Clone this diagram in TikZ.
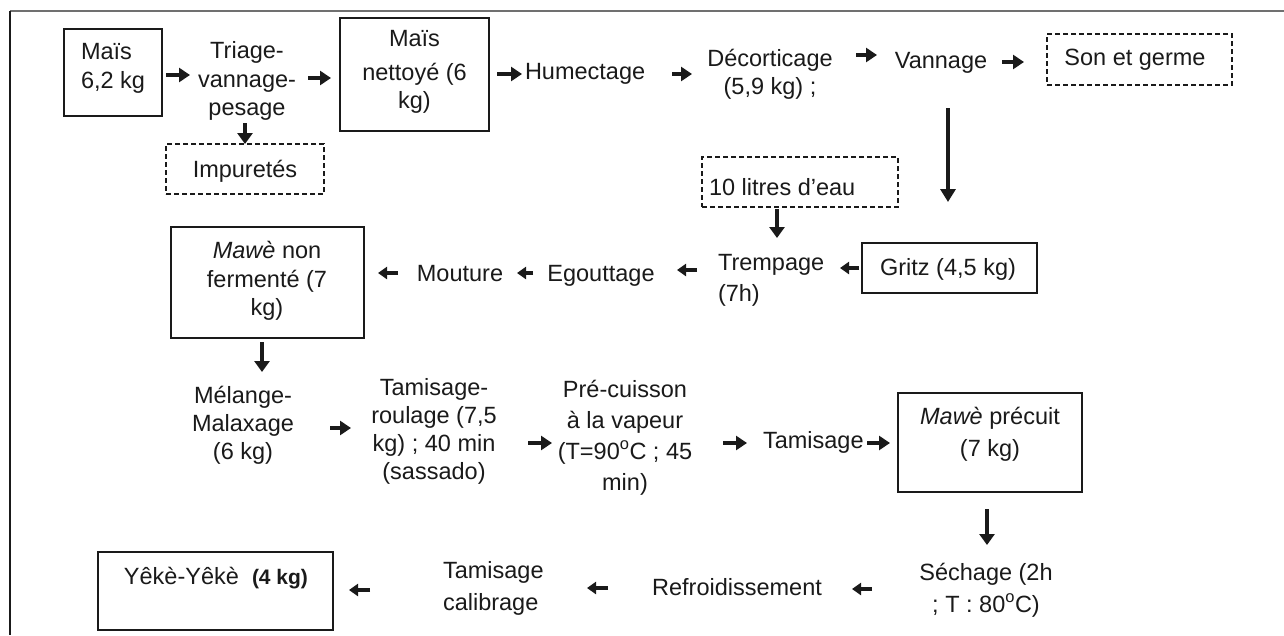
\documentclass[tikz,border=0pt]{standalone}
\usepackage{fontspec}
\setmainfont{Liberation Sans}
\usetikzlibrary{arrows.meta,fit}
\definecolor{ink}{HTML}{1A1A1A}
\definecolor{frame}{HTML}{707070}
\newcommand\mainfs{\fontsize{23.5}{28}\selectfont}
\begin{document}
\begin{tikzpicture}[x=1pt,y=-1pt,
  txt/.style={inner sep=0pt, outer sep=0pt, font=\mainfs, text=ink, align=center, anchor=base},
  txtl/.style={txt, align=left, anchor=base west},
  box/.style={draw=ink, line width=1.3pt, inner sep=0pt},
  dbox/.style={draw=ink, line width=1.2pt, dash pattern=on 5pt off 3pt, inner sep=0pt},
  rarr/.style={draw=ink, line width=4.8pt, -{Triangle[length=11pt,width=14pt]}},
  larr/.style={draw=ink, line width=3.8pt, -{Triangle[length=9pt,width=12pt]}},
  darr/.style={draw=ink, line width=4.8pt, -{Triangle[length=11pt,width=15pt]}},
  longarr/.style={draw=ink, line width=3.2pt, -{Triangle[length=13pt,width=15pt]}},
]
\useasboundingbox (0,0) rectangle (1284,635);
\fill[white] (0,0) rectangle (1284,635);
% frame
\draw[frame, line width=1.2pt] (10,11) -- (1284,11);
\draw[ink, line width=1.2pt] (10,11) -- (10,635);

% row 1 (multi-line nodes are anchored at the baseline of their last line)
\node[box, fit={(64,29) (162,116)}] (b1) {};
\node[txtl] (t1) at (81,88) {Maïs\\[1pt]6,2 kg};
\node[txt] (t2) at (247,115) {Triage-\\[1pt]vannage-\\pesage};
\node[box, fit={(340,18) (489,131)}] (b3) {};
\node[txt] (t3) at (414.5,108) {Maïs\\[6pt]nettoyé (6\\kg)};
\node[txtl] (t4) at (525,79) {Humectage};
\node[txt] (t5) at (770,94) {Décorticage\\(5,9 kg) ;};
\node[txt] (t6) at (941,68) {Vannage};
\node[dbox, fit={(1047,34) (1232,85)}] (b7) {};
\node[txt] (t7) at (1135,65) {Son et germe};
\node[dbox, fit={(166,144) (324,194)}] (bimp) {};
\node[txt] (timp) at (245,177) {Impuretés};

\draw[rarr] (166,75) -- (190,75);
\draw[rarr] (308,78) -- (331,78);
\draw[rarr] (497,74) -- (522,74);
\draw[rarr] (672,74) -- (692,74);
\draw[rarr] (856,55) -- (877,55);
\draw[rarr] (1002,62) -- (1024,62);
\draw[darr] (245,123) -- (245,144);
\draw[longarr] (948,108) -- (948,202);

% row 2
\node[dbox, fit={(702,157) (898,207)}] (beau) {};
\node[txtl] (teau) at (709,195) {10 litres d’eau};
\draw[darr] (777,209) -- (777,238);
\node[txtl] (ttr) at (718,301) {Trempage\\[3pt](7h)};
\node[box, fit={(862,243) (1037,293)}] (bgr) {};
\node[txt] (tgr) at (948,275) {Gritz (4,5 kg)};
\draw[larr] (859,268) -- (840,268);
\draw[larr] (697,270) -- (677,270);
\node[txt] (teg) at (601,281) {Egouttage};
\draw[larr] (533,273) -- (517,273);
\node[txt] (tmo) at (460,281) {Mouture};
\draw[larr] (398,273) -- (378,273);
\node[box, fit={(171,227) (364,338)}] (bmw) {};
\node[txt] (tmw) at (267,315) {\textit{Mawè} non\\[1pt]fermenté (7\\kg)};
\draw[darr] (262,342) -- (262,372);

% row 3
\node[txt] (tme) at (243,459) {Mélange-\\Malaxage\\(6 kg)};
\draw[rarr] (330,428) -- (351,428);
\node[txt] (tta) at (434,479) {Tamisage-\\roulage (7,5\\kg) ; 40 min\\(sassado)};
\draw[rarr] (528,443) -- (552,443);
\node[txt] (tpc) at (625,490) {Pré-cuisson\\[3pt]à la vapeur\\[3pt](T=90\textsuperscript{o}C ; 45\\[3pt]min)};
\draw[rarr] (723,443) -- (747,443);
\node[txtl] (ttam) at (763,448) {Tamisage};
\draw[rarr] (867,443) -- (890,443);
\node[box, fit={(898,393) (1082,492)}] (bmp) {};
\node[txt] (tmp) at (990,456) {\textit{Mawè} précuit\\[4pt](7 kg)};
\draw[darr] (987,509) -- (987,545);

% row 4
\node[txt] (tse) at (986,612) {Séchage (2h\\[4pt]; T : 80\textsuperscript{o}C)};
\draw[larr] (872,589) -- (852,589);
\node[txt] (tre) at (737,595) {Refroidissement};
\draw[larr] (608,588) -- (587,588);
\node[txtl] (tca) at (443,610) {Tamisage\\[4pt]calibrage};
\draw[larr] (370,590) -- (349,590);
\node[box, fit={(98,552) (333,630)}] (byk) {};
\node[txt] (tyk) at (216,584) {Yêkè-Yêkè\ \ {\fontsize{21}{24}\selectfont\bfseries (4 kg)}};
\end{tikzpicture}
\end{document}
